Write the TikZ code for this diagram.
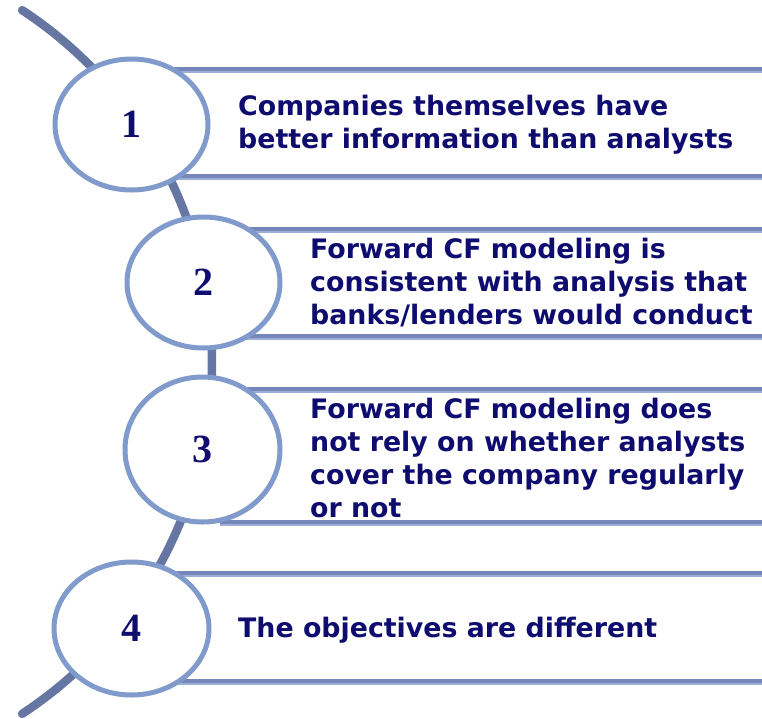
\documentclass[tikz,border=0pt]{standalone}
\usepackage{fontspec}
\usetikzlibrary{shapes.geometric}
\newfontfamily\bandfont{DejaVu Sans}
\newfontfamily\numfont{Liberation Serif}
\definecolor{spineclr}{HTML}{6676A3}
\definecolor{ringclr}{HTML}{7F9ACB}
\definecolor{bandclr}{HTML}{7587B8}
\definecolor{bandlight}{HTML}{9DAED8}
\definecolor{inkclr}{HTML}{0E0C6E}
\begin{document}
\begin{tikzpicture}[x=1pt,y=-1pt,
  spine/.style={draw=spineclr, line width=8.5pt, line cap=round},
  bandline/.style={draw=bandclr, line width=4pt},
  bandshade/.style={draw=bandlight, line width=1.8pt},
  bubble/.style={ellipse, draw=ringclr, line width=5pt, fill=white,
    inner sep=0pt, text=inkclr,
    font=\numfont\bfseries\fontsize{40}{40}\selectfont},
  itemtext/.style={anchor=base west, inner sep=0pt, text=inkclr,
    font=\bandfont\bfseries\fontsize{26.8}{33}\selectfont}]
\useasboundingbox (0,0) rectangle (762,718);

% curved spine behind the bubbles
\coordinate (hub) at (-209,362);
\draw[spine] (hub) ++(-56.7:421) arc[start angle=-56.7, end angle=56.7, radius=421];

% horizontal bands: top and bottom rule of each item
\foreach \x/\y in {146/70, 146/177, 218/230, 218/337, 218/390, 220/523, 146/574, 146/682}{
  \draw[bandshade] (\x,\y+1.6) -- (762,\y+1.6);
  \draw[bandline] (\x,\y-0.6) -- (762,\y-0.6);
}

% numbered bubbles
\node[bubble, minimum width=153pt, minimum height=131pt] (e1) at (131.5,124.5) {1};
\node[bubble, minimum width=153pt, minimum height=131pt] (e2) at (203.5,282.5) {2};
\node[bubble, minimum width=155pt, minimum height=145pt] (e3) at (202.5,449.5) {3};
\node[bubble, minimum width=155pt, minimum height=133pt] (e4) at (131.5,628.5) {4};

% item texts
\node[itemtext] (t1) at (238,115) {\begin{tabular}[t]{@{}l@{}}Companies themselves have\\better information than analysts\end{tabular}};
\node[itemtext] (t2) at (310,258) {\begin{tabular}[t]{@{}l@{}}Forward CF modeling is\\consistent with analysis that\\banks/lenders would conduct\end{tabular}};
\node[itemtext] (t3) at (310,418) {\begin{tabular}[t]{@{}l@{}}Forward CF modeling does\\not rely on whether analysts\\cover the company regularly\\or not\end{tabular}};
\node[itemtext] (t4) at (238,637) {The objectives are different};
\end{tikzpicture}
\end{document}
